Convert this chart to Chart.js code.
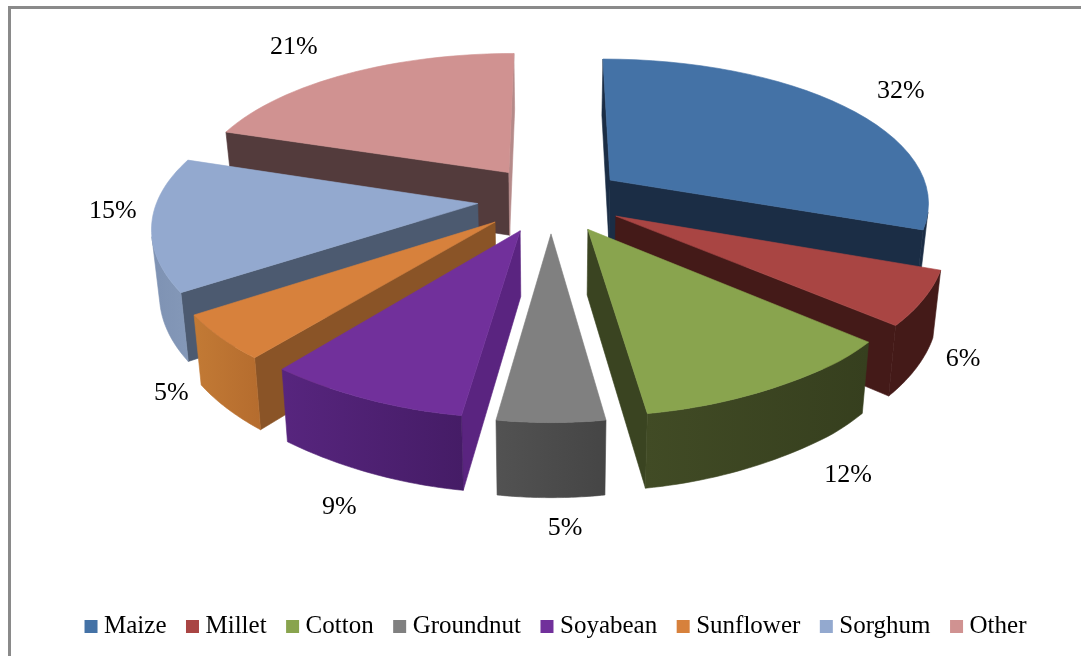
<!DOCTYPE html>
<html><head><meta charset="utf-8">
<style>
html,body{margin:0;padding:0;background:#fff;overflow:hidden;width:1081px;height:656px}
#frame{position:absolute;left:8px;top:6px;width:1073px;height:650px;border-left:3px solid #8a8a8a;border-top:3px solid #8a8a8a;box-sizing:border-box}
canvas{position:absolute;left:0;top:0}
</style>
<script src="https://cdn.jsdelivr.net/npm/chart.js@4/dist/chart.umd.min.js"></script>
</head><body>
<div id="frame"></div>
<canvas id="c" width="1081" height="649"></canvas>
<script>
const categories = ['Maize','Millet','Cotton','Groundnut','Soyabean','Sunflower','Sorghum','Other'];
const shares = [32,6,12,5,9,5,15,21];

const topColors   = ['#4472A6','#A94543','#89A44E','#808080','#71309B','#D7813C','#93A9CF','#D09291'];
const startWalls  = ['#1B2D45','#441A18','#363F1E','#4A4A4A','#5A2480','#8A5427','#4C5A70','#533B3C'];
const endWalls    = ['#1B2D45','#441A18','#3A4421','#4A4A4A','#5A2480','#8A5427','#4C5A70','#B58A89'];
const rimLeft     = ['#1B2D45','#441A18','#414B25','#525252','#57257E','#C27A35','#7E92B3','#B58A89'];
const rimRight    = ['#1B2D45','#441A18','#363F1E','#454545','#451C66','#B56C2E','#8498B8','#B58A89'];

// offset of each percentage label from the outer rim of its slice
const labelNudgeX = [57,39,76,14,-27,-49,-39,-54];
const labelNudgeY = [-15,61,87,106,108,56,-13,-26];

// projection of the tilted pie
const CX=551, CY=199, AX=320, BY=146, KX=0.14, VCLAMP=-0.95, KY=0.16, EXPLODE=0.23, DEPTH=64, KD=0.12, FOOT=0.98;
const proj=(u,v)=>({x:CX+AX*u/(1+KX*Math.max(v,VCLAMP)), y:CY-BY*v/(1+KY*v)});
const foot=(u,v)=>{const p=proj(u,v);return {x:CX+(p.x-CX)*FOOT, y:p.y+DEPTH/(1+KD*v)};};
const area=ps=>ps.reduce((s,p,i)=>{const q=ps[(i+1)%ps.length];return s+p.x*q.y-q.x*p.y;},0);
function poly(ctx,ps,fill){
  ctx.beginPath();ps.forEach((p,i)=>i?ctx.lineTo(p.x,p.y):ctx.moveTo(p.x,p.y));ctx.closePath();
  ctx.fillStyle=fill;ctx.strokeStyle=fill;ctx.lineWidth=0.6;ctx.fill();ctx.stroke();
}

const pie3d={
  id:'pie3d',
  beforeDatasetsDraw(chart){
    const ctx=chart.ctx, arcs=chart.getDatasetMeta(0).data;
    const items=arcs.map((arc,i)=>{
      const a0=arc.startAngle+Math.PI/2, a1=arc.endAngle+Math.PI/2, m=(a0+a1)/2;
      return {i,a0,a1,m,ou:EXPLODE*Math.sin(m),ov:EXPLODE*Math.cos(m)};
    }).sort((a,b)=>b.ov-a.ov);
    ctx.save();
    for(const s of items){
      const {i,a0,a1,ou,ov}=s, top=[], bot=[], n=32;
      for(let k=0;k<=n;k++){
        const t=a0+(a1-a0)*k/n, u=ou+Math.sin(t), v=ov+Math.cos(t);
        top.push(proj(u,v)); bot.push(foot(u,v));
      }
      const aT=proj(ou,ov), aB=foot(ou,ov);
      const sw=[aT,top[0],bot[0],aB], ew=[aT,top[n],bot[n],aB];
      if(area(sw)<0) poly(ctx,sw,startWalls[i]);
      if(area(ew)>0) poly(ctx,ew,endWalls[i]);
      let first=-1,last=-1;
      for(let k=0;k<n;k++){
        if(area([top[k],top[k+1],bot[k+1],bot[k]])<0){ if(first<0) first=k; last=k; }
      }
      if(first>=0){
        const band=top.slice(first,last+2).concat(bot.slice(first,last+2).reverse());
        const xs=band.map(p=>p.x), lo=Math.min(...xs), hi=Math.max(...xs);
        const g=ctx.createLinearGradient(lo,0,hi,0);
        g.addColorStop(0,rimLeft[i]); g.addColorStop(1,rimRight[i]);
        poly(ctx,band,g);
      }
      poly(ctx,[aT,...top],topColors[i]);
    }
    ctx.font='26px "Liberation Serif"';ctx.fillStyle='#000';ctx.textAlign='center';ctx.textBaseline='middle';
    for(const s of items){
      const r=1+EXPLODE, p=proj(r*Math.sin(s.m),r*Math.cos(s.m));
      ctx.fillText(shares[s.i]+'%',p.x+labelNudgeX[s.i],p.y+labelNudgeY[s.i]);
    }
    ctx.restore();
    return false;
  }
};

new Chart(document.getElementById('c'),{
  type:'pie',
  data:{labels:categories,datasets:[{data:shares,backgroundColor:topColors,borderWidth:0}]},
  plugins:[pie3d],
  options:{
    responsive:false,animation:false,
    layout:{padding:{left:36}},
    plugins:{
      tooltip:{enabled:false},
      legend:{position:'bottom',labels:{
        font:{family:'"Liberation Serif"',size:25},color:'#000',
        usePointStyle:true,pointStyle:'rect',boxWidth:1,boxHeight:13,padding:25.5
      }}
    }
  }
});
</script>
</body></html>
